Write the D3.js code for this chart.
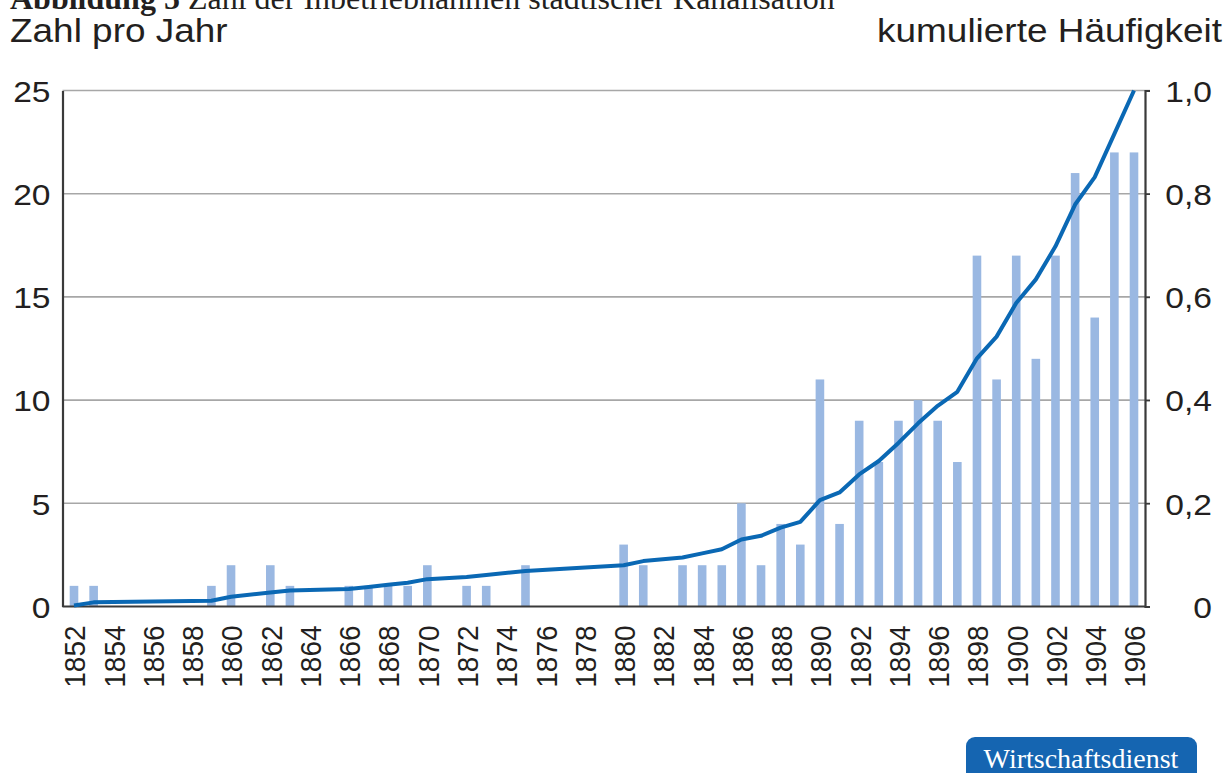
<!DOCTYPE html>
<html>
<head>
<meta charset="utf-8">
<title>Inbetriebnahmen städtischer Kanalisation</title>
<script src="https://cdn.jsdelivr.net/npm/d3@7/dist/d3.min.js"></script>
<style>
  body { margin: 0; background: #fff; }
  svg text { font-family: "Liberation Sans", Arial, sans-serif; fill: #231f20; }
</style>
</head>
<body>
<script>
// Jahre mit Inbetriebnahmen, Anzahl pro Jahr, kumulierte Häufigkeit
var years  = [1852,1853,1859,1860,1862,1863,1866,1867,1868,1869,1870,1872,1873,1875,
              1880,1881,1883,1884,1885,1886,1887,1888,1889,1890,1891,1892,1893,1894,
              1895,1896,1897,1898,1899,1900,1901,1902,1903,1904,1905,1906];
var counts = [1,1,1,2,2,1,1,1,1,1,2,1,1,2,
              3,2,2,2,2,5,2,4,3,11,4,9,7,9,
              10,9,7,17,11,17,12,17,21,14,22,22];
var cumShare = [0.002,0.008,0.011,0.019,0.027,0.031,0.034,0.038,0.042,0.046,0.053,0.057,0.061,0.069,
                0.080,0.088,0.095,0.103,0.111,0.130,0.137,0.153,0.164,0.206,0.221,0.256,0.282,0.317,
                0.355,0.389,0.416,0.481,0.523,0.588,0.634,0.698,0.779,0.832,0.916,1.0];
var xTicks = ["1852","1854","1856","1858","1860","1862","1864","1866","1868","1870","1872","1874",
              "1876","1878","1880","1882","1884","1886","1888","1890","1892","1894","1896","1898",
              "1900","1902","1904","1906"];
var leftTicks  = [0,5,10,15,20,25];
var rightTicks = [0,0.2,0.4,0.6,0.8,1.0];

var width = 1232, height = 773;
var plot = {left: 62.5, right: 1145, top: 90.5, bottom: 606.5};
var sx = 1.12; // Schrift im Original leicht in die Breite gezogen

var svg = d3.select("body").append("svg")
    .attr("width", width)
    .attr("height", height);

var x = d3.scaleLinear().domain([1852, 1906]).range([74, 1134]);
var yL = d3.scaleLinear().domain([0, 25]).range([plot.bottom, plot.top]);
var yR = d3.scaleLinear().domain([0, 1]).range([plot.bottom, plot.top]);

// Titel (oben abgeschnitten wie im Original)
var title = svg.append("text")
    .attr("x", 10).attr("y", 9)
    .style("font-family", "'Liberation Serif', 'Times New Roman', serif")
    .style("font-size", "32px");
title.append("tspan").style("font-weight", "bold").text("Abbildung 5");
title.append("tspan").text(" Zahl der Inbetriebnahmen städtischer Kanalisation");

svg.append("text")
    .attr("transform", "translate(10,42) scale(" + sx + ",1)")
    .style("font-size", "33px").text("Zahl pro Jahr");
svg.append("text")
    .attr("transform", "translate(1222,42) scale(" + sx + ",1)")
    .attr("text-anchor", "end")
    .style("font-size", "33px").text("kumulierte Häufigkeit");

// Gitterlinien
svg.append("g").selectAll("line")
    .data(leftTicks.slice(1))
    .enter().append("line")
    .attr("x1", plot.left).attr("x2", plot.right + 5)
    .attr("y1", function(d){ return yL(d); })
    .attr("y2", function(d){ return yL(d); })
    .attr("stroke", "#a7a7a7").attr("stroke-width", 1.6);

// Balken
var bw = 8.6;
svg.append("g").selectAll("rect")
    .data(years)
    .enter().append("rect")
    .attr("x", function(d){ return x(d) - bw / 2; })
    .attr("y", function(d, i){ return yL(counts[i]); })
    .attr("width", bw)
    .attr("height", function(d, i){ return yL(0) - yL(counts[i]); })
    .attr("fill", "#9ab8e2");

// Achsen
var axisLeft = svg.append("g")
    .attr("transform", "translate(" + plot.left + ",0)")
    .call(d3.axisLeft(yL).tickValues(leftTicks).tickSize(0));
axisLeft.select(".domain").attr("stroke", "#3a3a3a").attr("stroke-width", 2.2);
axisLeft.selectAll("text")
    .attr("transform", "scale(" + sx + ",1)")
    .attr("x", -12 / sx).attr("dy", "0.36em")
    .style("font-size", "30px").attr("fill", "#231f20");

var axisRight = svg.append("g")
    .attr("transform", "translate(" + plot.right + ",0)")
    .call(d3.axisRight(yR).tickValues(rightTicks).tickSize(5)
        .tickFormat(function(d){ return d === 0 ? "0" : d3.format(".1f")(d).replace(".", ","); }));
axisRight.select(".domain").attr("stroke", "#3a3a3a").attr("stroke-width", 2.2);
axisRight.selectAll("line").attr("stroke", "#3a3a3a").attr("stroke-width", 1.6);
axisRight.selectAll("text")
    .attr("transform", "scale(" + sx + ",1)")
    .attr("x", 67 / sx).attr("text-anchor", "end").attr("dy", "0.36em")
    .style("font-size", "30px").attr("fill", "#231f20");

var axisBottom = svg.append("g")
    .attr("transform", "translate(0," + plot.bottom + ")")
    .call(d3.axisBottom(x).tickValues(xTicks.map(Number)).tickSize(0).tickFormat(d3.format("d")));
axisBottom.select(".domain").attr("d", "M" + plot.left + ",0H" + plot.right)
    .attr("stroke", "#3a3a3a").attr("stroke-width", 2.2);
axisBottom.selectAll("text")
    .attr("transform", "rotate(-90) scale(1,1.08)")
    .attr("x", -19).attr("y", 0).attr("dy", "0.36em")
    .attr("text-anchor", "end")
    .style("font-size", "28px").attr("fill", "#231f20");

// kumulierte Linie
var line = d3.line()
    .x(function(d){ return x(d); })
    .y(function(d, i){ return yR(cumShare[i]); });
svg.append("path")
    .datum(years)
    .attr("d", line)
    .attr("fill", "none")
    .attr("stroke", "#0a68b4")
    .attr("stroke-width", 4)
    .attr("stroke-linejoin", "round");

// Logo
var logo = svg.append("g");
logo.append("rect")
    .attr("x", 966).attr("y", 737).attr("width", 231).attr("height", 50)
    .attr("rx", 9).attr("fill", "#1565b1");
logo.append("text")
    .attr("x", 1081).attr("y", 768).attr("text-anchor", "middle")
    .style("font-family", "'Liberation Serif', 'Times New Roman', serif")
    .style("font-size", "28px").style("fill", "#fff")
    .text("Wirtschaftsdienst");
</script>
</body>
</html>
